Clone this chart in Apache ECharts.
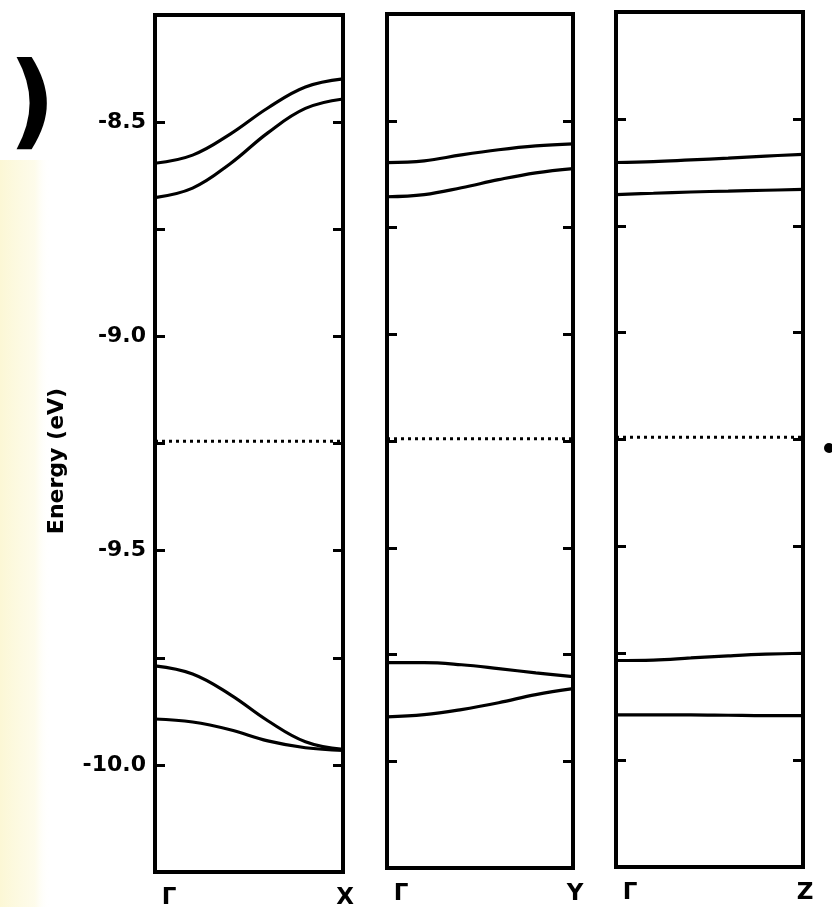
<!DOCTYPE html>
<html>
<head>
<meta charset="utf-8">
<title>Band structure</title>
<script src="https://cdn.jsdelivr.net/npm/echarts@6/dist/echarts.min.js"></script>
<style>
  html, body { margin: 0; padding: 0; background: #fff; }
  #chart { width: 832px; height: 907px; }
</style>
</head>
<body>
<div id="chart"></div>
<script>
  // k along each path, 0 = Γ, 1 = zone edge
  const kPoints = [0, 0.2, 0.4, 0.6, 0.8, 1];
  const pathLabels = [['Γ', 'X'], ['Γ', 'Y'], ['Γ', 'Z']];
  const yTickLabels = [-10.0, -9.5, -9.0, -8.5];
  const fermiLevel = -9.245;

  // Γ-X
  const gx1 = [-8.596, -8.577, -8.528, -8.467, -8.418, -8.399];
  const gx2 = [-8.676, -8.654, -8.597, -8.525, -8.468, -8.446];
  const gx3 = [-9.769, -9.788, -9.836, -9.897, -9.946, -9.964];
  const gx4 = [-9.893, -9.900, -9.918, -9.944, -9.960, -9.966];
  // Γ-Y
  const gy1 = [-8.598, -8.594, -8.580, -8.568, -8.559, -8.554];
  const gy2 = [-8.678, -8.673, -8.657, -8.638, -8.622, -8.612];
  const gy3 = [-9.769, -9.769, -9.774, -9.783, -9.793, -9.802];
  const gy4 = [-9.896, -9.891, -9.879, -9.863, -9.844, -9.830];
  // Γ-Z
  const gz1 = [-8.602, -8.600, -8.596, -8.592, -8.587, -8.583];
  const gz2 = [-8.677, -8.674, -8.671, -8.669, -8.667, -8.665];
  const gz3 = [-9.767, -9.766, -9.761, -9.756, -9.752, -9.750];
  const gz4 = [-9.894, -9.894, -9.894, -9.895, -9.896, -9.896];

  const panels = [[gx1, gx2, gx3, gx4], [gy1, gy2, gy3, gy4], [gz1, gz2, gz3, gz4]];

  const font = 'DejaVu Sans';
  const grids = [
    { left: 155, width: 188, top: 15, height: 857 },
    { left: 387, width: 186, top: 14, height: 854 },
    { left: 616, width: 187, top: 12, height: 855 },
  ];

  const chart = echarts.init(document.getElementById('chart'), null, { renderer: 'canvas' });

  const xAxis = [];
  const yAxis = [];
  const series = [];

  grids.forEach((g, i) => {
    xAxis.push({
      type: 'value',
      gridIndex: i,
      min: 0,
      max: 1,
      interval: 1,
      axisLine: { show: false },
      axisTick: { show: false },
      splitLine: { show: false },
      axisLabel: {
        margin: 15,
        formatter: (v) => (v === 0 ? '{g|' + pathLabels[i][0] + '}' : v === 1 ? '{e|' + pathLabels[i][1] + '}' : ''),
        rich: {
          g: { fontFamily: font, fontWeight: 'bold', fontSize: 23, color: '#000', padding: [0, 0, 0, 28] },
          e: { fontFamily: font, fontWeight: 'bold', fontSize: 23, color: '#000', padding: [0, 0, 0, 4] },
        },
      },
    });
    ['left', 'right'].forEach((pos) => {
      yAxis.push({
        type: 'value',
        gridIndex: i,
        position: pos,
        min: -10.25,
        max: -8.25,
        interval: 0.25,
        axisLine: { show: false },
        splitLine: { show: false },
        axisTick: { show: true, inside: true, length: 10, lineStyle: { color: '#000', width: 3 } },
        axisLabel: {
          show: i === 0 && pos === 'left',
          margin: 9,
          fontFamily: font,
          fontWeight: 'bold',
          fontSize: 22,
          color: '#000',
          formatter: (v) => (yTickLabels.some((t) => Math.abs(t - v) < 1e-6) ? v.toFixed(1) : ''),
        },
      });
    });
    panels[i].forEach((band) => {
      series.push({
        type: 'line',
        xAxisIndex: i,
        yAxisIndex: i * 2,
        data: kPoints.map((k, j) => [k, band[j]]),
        smooth: 0.4,
        showSymbol: false,
        silent: true,
        lineStyle: { color: '#000', width: 3.2 },
      });
    });
    series.push({
      type: 'line',
      xAxisIndex: i,
      yAxisIndex: i * 2,
      data: [[0, fermiLevel], [1, fermiLevel]],
      showSymbol: false,
      silent: true,
      lineStyle: { color: '#000', width: 3, type: [3, 4] },
    });
  });

  chart.setOption({
    animation: false,
    backgroundColor: '#fff',
    grid: grids.map((g) => ({
      ...g,
      outerBoundsMode: 'none',
      show: true,
      borderColor: '#000',
      borderWidth: 4,
      backgroundColor: 'transparent',
    })),
    xAxis,
    yAxis,
    series,
    graphic: [
      {
        type: 'rect',
        z: -10,
        shape: { x: 0, y: 160, width: 50, height: 747 },
        style: {
          fill: new echarts.graphic.LinearGradient(0, 0, 1, 0, [
            { offset: 0, color: 'rgba(250, 242, 185, 0.6)' },
            { offset: 0.7, color: 'rgba(252, 248, 215, 0.5)' },
            { offset: 1, color: 'rgba(255, 255, 255, 0)' },
          ]),
        },
      },
      {
        type: 'text',
        x: 32,
        y: 109,
        style: { text: ')', font: 'bold 104px DejaVu Sans', fill: '#000', align: 'center', verticalAlign: 'middle' },
      },
      {
        type: 'text',
        x: 57,
        y: 461,
        rotation: Math.PI / 2,
        style: { text: 'Energy (eV)', font: 'bold 22px DejaVu Sans', fill: '#000', align: 'center', verticalAlign: 'middle' },
      },
      {
        type: 'circle',
        shape: { cx: 829, cy: 448, r: 5 },
        style: { fill: '#000' },
      },
    ],
  });

  window.addEventListener('resize', () => chart.resize());
</script>
</body>
</html>
